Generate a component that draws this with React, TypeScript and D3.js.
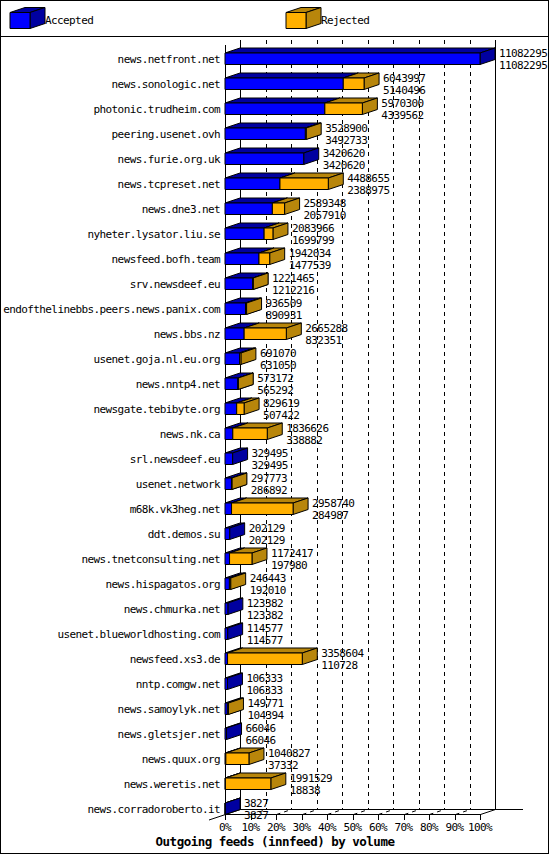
import React from "react";
import * as d3 from "d3";

const categories = [
  "news.netfront.net",
  "news.sonologic.net",
  "photonic.trudheim.com",
  "peering.usenet.ovh",
  "news.furie.org.uk",
  "news.tcpreset.net",
  "news.dne3.net",
  "nyheter.lysator.liu.se",
  "newsfeed.bofh.team",
  "srv.newsdeef.eu",
  "endofthelinebbs.peers.news.panix.com",
  "news.bbs.nz",
  "usenet.goja.nl.eu.org",
  "news.nntp4.net",
  "newsgate.tebibyte.org",
  "news.nk.ca",
  "srl.newsdeef.eu",
  "usenet.network",
  "m68k.vk3heg.net",
  "ddt.demos.su",
  "news.tnetconsulting.net",
  "news.hispagatos.org",
  "news.chmurka.net",
  "usenet.blueworldhosting.com",
  "newsfeed.xs3.de",
  "nntp.comgw.net",
  "news.samoylyk.net",
  "news.gletsjer.net",
  "news.quux.org",
  "news.weretis.net",
  "news.corradoroberto.it",
];

const totals = [
  11082295, 6043997, 5970300, 3528900, 3420620, 4488655, 2589348, 2083966,
  1942034, 1221465, 936509, 2665288, 691070, 573172, 829619, 1836626, 329495,
  297773, 2958740, 202129, 1172417, 246443, 123382, 114577, 3358604, 106333,
  149771, 66046, 1040827, 1991529, 3827,
];

const accepted = [
  11082295, 5140496, 4339562, 3492733, 3420620, 2388975, 2057910, 1699799,
  1477539, 1212216, 890931, 832351, 631050, 565292, 507422, 338882, 329495,
  286892, 284987, 202129, 197980, 192010, 123382, 114577, 110728, 106333,
  104394, 66046, 37332, 18838, 3827,
];

const tickLabels = ["0%", "10%", "20%", "30%", "40%", "50%", "60%", "70%", "80%", "90%", "100%"];

const seriesNames = ["Accepted", "Rejected"];

const W = 550;
const H = 855;
const DX = 15;
const DY = 5;
const BLUE = "#0000FF";
const BLUE_D = "#0000A0";
const ORANGE = "#FFB000";
const ORANGE_D = "#B8860B";
const FONT = "'DejaVu Sans Mono', monospace";

function pts(a: [number, number][]) {
  return a.map((p) => p[0] + "," + p[1]).join(" ");
}

function Box({ xa, xb, yt, yb, front, dark }: { xa: number; xb: number; yt: number; yb: number; front: string; dark: string }) {
  return (
    <g stroke="#000" strokeWidth={1} strokeLinejoin="miter">
      <polygon points={pts([[xa, yt], [xa + DX, yt - DY], [xb + DX, yt - DY], [xb, yt]])} fill={dark} />
      <polygon points={pts([[xb, yt], [xb + DX, yt - DY], [xb + DX, yb - DY], [xb, yb]])} fill={dark} />
      <polygon points={pts([[xa, yt], [xb, yt], [xb, yb], [xa, yb]])} fill={front} />
    </g>
  );
}

export default function App() {
  const maxV = d3.max(totals) as number;
  const x = d3.scaleLinear().domain([0, maxV]).range([225, 480]);
  const y = d3.scaleBand<string>().domain(categories).range([39.5, 814.5]).padding(0);
  const floorY = 814.5;
  const tickVals = tickLabels.map((_, i) => (maxV * i) / 10);

  const txt = { fontFamily: FONT, fontSize: 11, letterSpacing: -0.6 } as React.CSSProperties;

  return (
    <svg
      width={W}
      height={H}
      viewBox={`0 0 ${W} ${H}`}
      style={{ position: "absolute", left: 0, top: 0, background: "#fff" }}
    >
      <rect x={0} y={0} width={W} height={H} fill="#fff" />
      <rect x={0.5} y={0.5} width={548} height={853} fill="none" stroke="#000" />
      <line x1={0} x2={548} y1={36.5} y2={36.5} stroke="#000" />

      {/* legend */}
      {seriesNames.map((name, i) => {
        const lx = i === 0 ? 10 : 286;
        return (
          <g key={name}>
            <Box xa={lx} xb={lx + 20} yt={12.5} yb={28.5} front={i === 0 ? BLUE : ORANGE} dark={i === 0 ? BLUE_D : ORANGE_D} />
            <text x={lx + 35} y={20.5} dominantBaseline="central" style={txt}>
              {name}
            </text>
          </g>
        );
      })}

      {/* back wall grid */}
      <g shapeRendering="crispEdges">
        {tickVals.map((v, i) => {
          const bx = Math.round(x(v) + DX) + 0.5;
          const fx = Math.round(x(v)) + 0.5;
          const edge = i === 0 || i === tickVals.length - 1;
          return (
            <g key={i}>
              <line x1={bx} x2={bx} y1={40} y2={floorY - DY} stroke="#000" strokeDasharray={edge ? undefined : "4,4"} />
              <line x1={fx} x2={fx} y1={floorY} y2={floorY + 5} stroke="#000" />
            </g>
          );
        })}
        <line x1={225.5} x2={225.5} y1={45} y2={floorY} stroke="#000" />
        <line x1={225} x2={481} y1={floorY} y2={floorY} stroke="#000" />
        <line x1={240} x2={523} y1={floorY - DY} y2={floorY - DY} stroke="#000" />
      </g>
      <g>
        {tickVals.map((v, i) => {
          if (i === 0) return null;
          const fx = Math.round(x(v)) + 0.5;
          const edge = i === tickVals.length - 1;
          return (
            <line key={i} x1={fx} y1={floorY} x2={fx + DX} y2={floorY - DY} stroke="#000" strokeDasharray={edge ? undefined : "4,4"} />
          );
        })}
        <line x1={209} y1={floorY + 5.5} x2={240.5} y2={floorY - DY} stroke="#000" />
      </g>

      {/* bars */}
      {categories.map((c, i) => {
        const bottom = (y(c) as number) + y.bandwidth();
        const top = bottom - 11.5;
        const xa = x(0);
        const xAcc = x(accepted[i]);
        const xTot = x(totals[i]);
        return (
          <g key={c}>
            <Box xa={xa} xb={xAcc} yt={top} yb={bottom} front={BLUE} dark={BLUE_D} />
            {totals[i] > accepted[i] && <Box xa={xAcc} xb={xTot} yt={top} yb={bottom} front={ORANGE} dark={ORANGE_D} />}
            <text x={220} y={bottom - 5} textAnchor="end" dominantBaseline="central" style={txt}>
              {c}
            </text>
            <text x={xTot + DX + 4} y={bottom - 11} dominantBaseline="central" style={txt}>
              {totals[i]}
            </text>
            <text x={xTot + DX + 4} y={bottom + 0.5} dominantBaseline="central" style={txt}>
              {accepted[i]}
            </text>
          </g>
        );
      })}

      {/* axis labels */}
      {tickVals.map((v, i) => (
        <text key={i} x={x(v)} y={827.5} textAnchor="middle" dominantBaseline="central" style={txt}>
          {tickLabels[i]}
        </text>
      ))}
      <text
        x={275}
        y={841}
        textAnchor="middle"
        dominantBaseline="central"
        style={{ fontFamily: FONT, fontSize: 12.5, fontWeight: "bold", letterSpacing: -0.5 }}
      >
        Outgoing feeds (innfeed) by volume
      </text>
    </svg>
  );
}
